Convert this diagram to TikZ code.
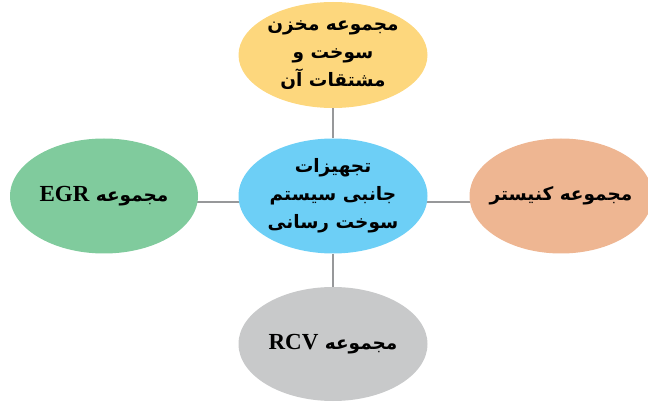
\documentclass[tikz,border=0pt]{standalone}
\usepackage{fontspec}
\usepackage{tikz}
\usetikzlibrary{positioning,shapes.geometric,backgrounds}
\TeXXeTstate=1
\newfontfamily\farsifont[Script=Arabic]{DejaVu Sans}
\newfontfamily\latinfont{Liberation Serif}

\definecolor{hubblue}{HTML}{6DCFF6}
\definecolor{tankyellow}{HTML}{FDD77D}
\definecolor{egrgreen}{HTML}{80CB9D}
\definecolor{canorange}{HTML}{EEB692}
\definecolor{rcvgray}{HTML}{C8C9CA}
\definecolor{linkgray}{HTML}{97989A}

\begin{document}
\begin{tikzpicture}[x=1pt,y=1pt,
    part/.style={ellipse,inner sep=0pt,minimum width=189pt,minimum height=115pt,
        align=center,font=\farsifont\bfseries\fontsize{18.5}{28}\selectfont},
    link/.style={draw=linkgray,line width=2.5pt}]

\useasboundingbox (0,0) rectangle (648,402);

\node[part,fill=hubblue] (hub) at (333,206) {\beginR تجهیزات\endR\\ \beginR جانبی سیستم\endR\\ \beginR سوخت رسانی\endR};
\node[part,fill=tankyellow,minimum height=106pt,inner ysep=-4pt] (tank) at (333,347) {\beginR مجموعه مخزن\endR\\ \beginR سوخت و\endR\\ \beginR مشتقات آن\endR};
\node[part,fill=egrgreen,minimum width=188pt] (egr) at (104,206) {\beginR مجموعه {\latinfont\fontsize{23}{26}\selectfont\beginL EGR\endL}\endR};
\node[part,fill=canorange,minimum width=183pt,inner xsep=-12pt] (canister) at (561,206) {\beginR مجموعه کنیستر\endR};
\node[part,fill=rcvgray,minimum height=114pt] (rcv) at (333,58) {\beginR مجموعه {\latinfont\fontsize{23}{26}\selectfont\beginL RCV\endL}\endR};

\begin{scope}[on background layer]
\draw[link] (tank) -- (hub);
\draw[link] (hub) -- (rcv);
\draw[link] ([yshift=-6pt]egr.center) -- ([yshift=-6pt]hub.center);
\draw[link] ([yshift=-6pt]hub.center) -- ([yshift=-6pt]canister.center);
\end{scope}

\end{tikzpicture}
\end{document}
